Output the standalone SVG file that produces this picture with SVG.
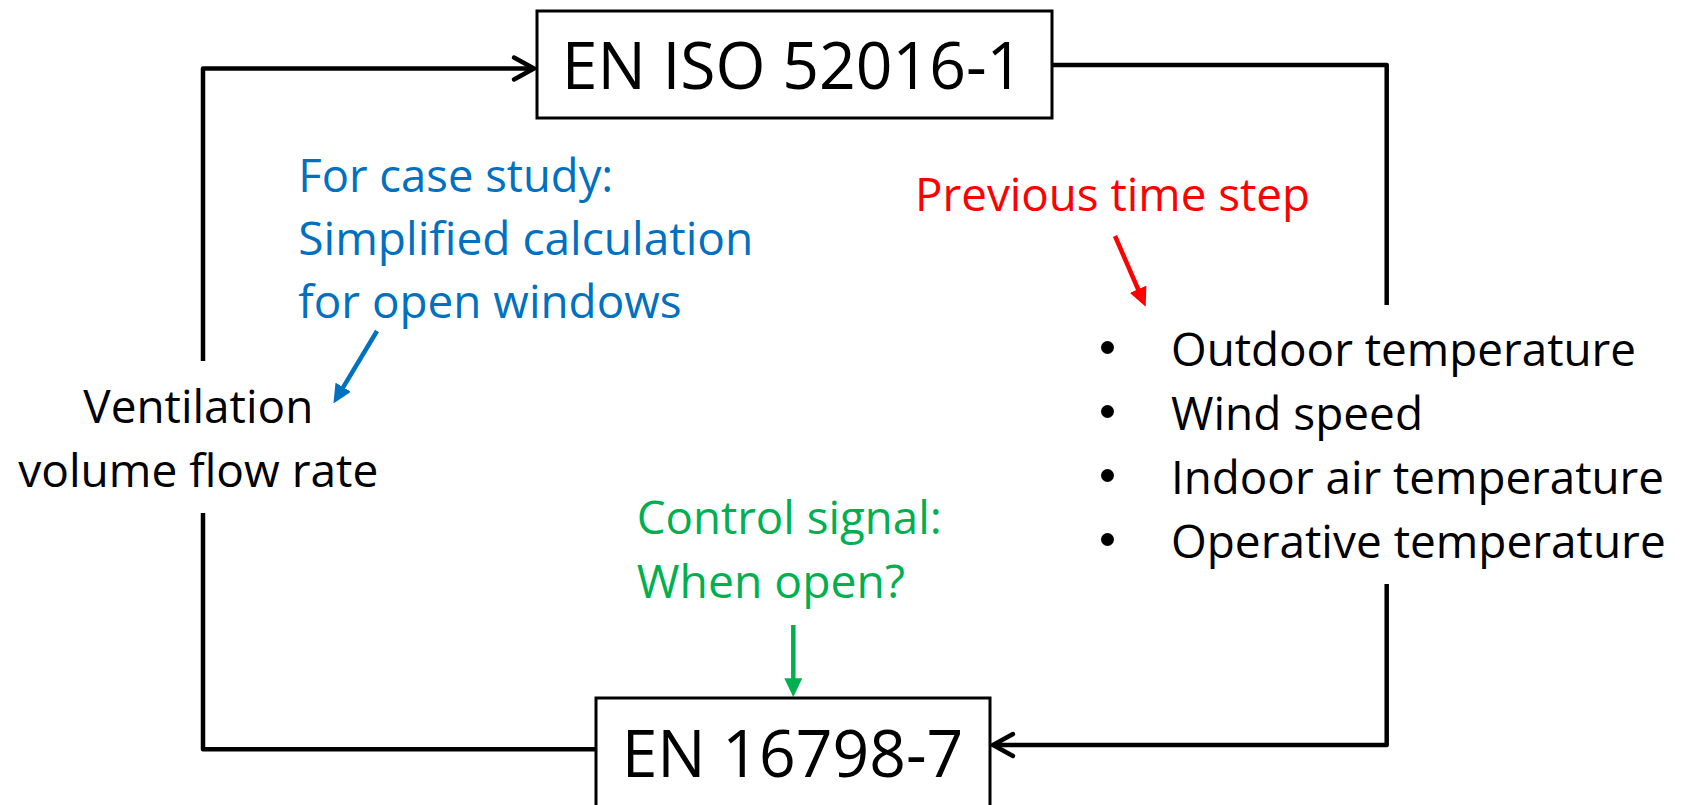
<svg xmlns="http://www.w3.org/2000/svg" width="1683" height="805" viewBox="0 0 1683 805">
  <style>
    .t { font-family: "Open Sans", "Noto Sans", "Liberation Sans", sans-serif; }
    .box { fill: #ffffff; stroke: #000000; stroke-width: 3; }
    .big { font-size: 66px; fill: #000000; }
    .lbl { font-size: 46px; fill: #000000; }
    .dot { fill: #000000; }
    .blue { font-size: 46px; fill: #0070C0; }
    .red { font-size: 46px; fill: #FF0000; }
    .green { font-size: 46px; fill: #00B050; }
    .conn { fill: none; stroke: #000000; stroke-width: 4.5; stroke-linejoin: round; stroke-linecap: butt; }
    .ca { fill: none; stroke-width: 4.5; stroke-linecap: butt; }
  </style>
  <defs>
    <marker id="chev" markerUnits="userSpaceOnUse" viewBox="-24 -14 28 28" refX="0" refY="0" markerWidth="28" markerHeight="28" orient="auto" overflow="visible">
      <path d="M-20,-11 L0,0 L-20,11" fill="none" stroke="#000000" stroke-width="4.5" stroke-linejoin="miter" stroke-linecap="round"/>
    </marker>
    <marker id="headRed" markerUnits="userSpaceOnUse" viewBox="0 0 19 18" refX="9" refY="9" markerWidth="19" markerHeight="18" orient="auto">
      <path d="M0,0 L19,9 L0,18 z" fill="#FF0000"/>
    </marker>
    <marker id="headBlue" markerUnits="userSpaceOnUse" viewBox="0 0 19 18" refX="9" refY="9" markerWidth="19" markerHeight="18" orient="auto">
      <path d="M0,0 L19,9 L0,18 z" fill="#0070C0"/>
    </marker>
    <marker id="headGreen" markerUnits="userSpaceOnUse" viewBox="0 0 19 18" refX="9" refY="9" markerWidth="19" markerHeight="18" orient="auto">
      <path d="M0,0 L19,9 L0,18 z" fill="#00B050"/>
    </marker>
  </defs>

  <rect x="0" y="0" width="1683" height="805" fill="#ffffff"/>

  <g id="connectors">
    <path class="conn" d="M203,361 L203,68.5 L534,68.5" marker-end="url(#chev)"/>
    <path class="conn" d="M1052,65 L1386.7,65 L1386.7,305"/>
    <path class="conn" d="M1386.7,584 L1386.7,745 L993,745" marker-end="url(#chev)"/>
    <path class="conn" d="M203,513 L203,749.3 L596,749.3"/>
    <line class="ca" stroke="#FF0000" x1="1115" y1="236" x2="1141.7" y2="297.5" marker-end="url(#headRed)"/>
    <line class="ca" stroke="#0070C0" x1="377" y1="331" x2="338.6" y2="394.9" marker-end="url(#headBlue)"/>
    <line class="ca" stroke="#00B050" x1="793.3" y1="625" x2="793.3" y2="687.2" marker-end="url(#headGreen)"/>
  </g>

  <g id="node-en-iso-52016-1">
    <rect class="box" x="537" y="11" width="515" height="107"/>
    <text class="t big" x="561.7" y="89.3" textLength="461.6" lengthAdjust="spacingAndGlyphs">EN ISO 52016-1</text>
  </g>

  <g id="node-en-16798-7">
    <rect class="box" x="596" y="698" width="394" height="200"/>
    <text class="t big" x="621.7" y="777.3" textLength="341.6" lengthAdjust="spacingAndGlyphs">EN 16798-7</text>
  </g>

  <g id="node-ventilation">
    <text class="t lbl" x="83.3" y="423.3" textLength="230" lengthAdjust="spacingAndGlyphs">Ventilation</text>
    <text class="t lbl" x="18.3" y="486.7" textLength="360" lengthAdjust="spacingAndGlyphs">volume flow rate</text>
  </g>

  <g id="node-inputs">
    <circle class="dot" cx="1107.5" cy="347.5" r="6.5"/>
    <text class="t lbl" x="1171" y="365.5" textLength="465" lengthAdjust="spacingAndGlyphs">Outdoor temperature</text>
    <circle class="dot" cx="1107.5" cy="411.5" r="6.5"/>
    <text class="t lbl" x="1171" y="429.5" textLength="252" lengthAdjust="spacingAndGlyphs">Wind speed</text>
    <circle class="dot" cx="1107.5" cy="475.5" r="6.5"/>
    <text class="t lbl" x="1171" y="493.5" textLength="493" lengthAdjust="spacingAndGlyphs">Indoor air temperature</text>
    <circle class="dot" cx="1107.5" cy="539.5" r="6.5"/>
    <text class="t lbl" x="1171" y="557.5" textLength="494.7" lengthAdjust="spacingAndGlyphs">Operative temperature</text>
  </g>

  <g id="note-case-study">
    <text class="t blue" x="298.3" y="191.7" textLength="315" lengthAdjust="spacingAndGlyphs">For case study:</text>
    <text class="t blue" x="298.3" y="255" textLength="455" lengthAdjust="spacingAndGlyphs">Simplified calculation</text>
    <text class="t blue" x="298.3" y="318.3" textLength="383.3" lengthAdjust="spacingAndGlyphs">for open windows</text>
  </g>

  <g id="note-previous-time-step">
    <text class="t red" x="915" y="211" textLength="395" lengthAdjust="spacingAndGlyphs">Previous time step</text>
  </g>

  <g id="note-control-signal">
    <text class="t green" x="636.7" y="534" textLength="305" lengthAdjust="spacingAndGlyphs">Control signal:</text>
    <text class="t green" x="636.7" y="598.3" textLength="268.3" lengthAdjust="spacingAndGlyphs">When open?</text>
  </g>
</svg>
